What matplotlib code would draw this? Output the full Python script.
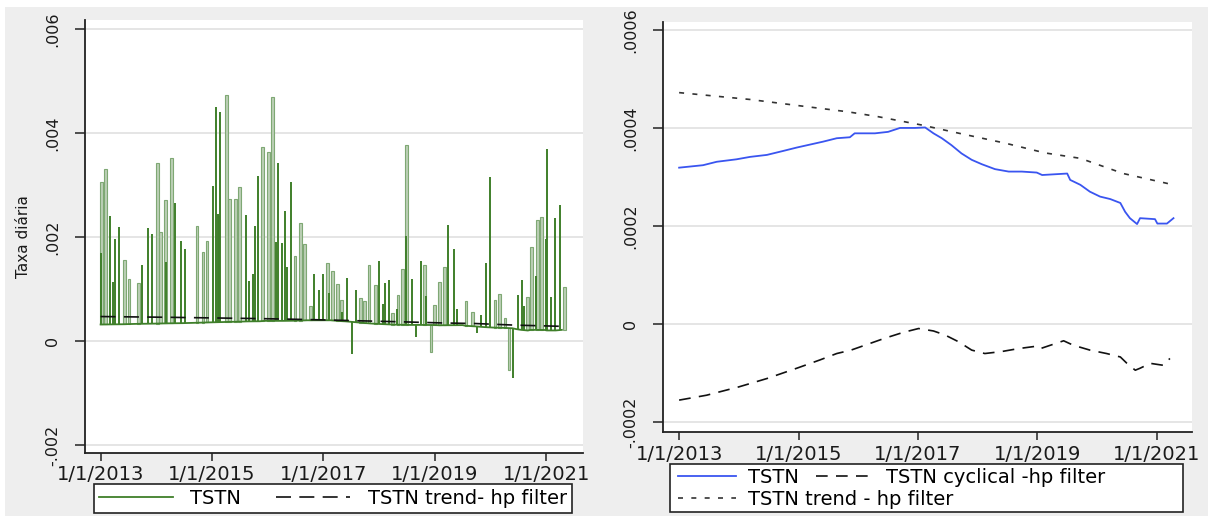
import numpy as np
import matplotlib
matplotlib.use('Agg')
import matplotlib.pyplot as plt
from matplotlib.patches import Rectangle
from matplotlib.lines import Line2D

plt.rcParams['font.family'] = ['DejaVu Sans']

# TSTN level (decimal years)
tstn_dates = [2013.00, 2013.40, 2013.63, 2013.96, 2014.19, 2014.47, 2014.74, 2014.97,
              2015.41, 2015.64, 2015.86, 2015.94, 2016.28, 2016.50, 2016.70, 2016.95,
              2017.12, 2017.26, 2017.40, 2017.56, 2017.73, 2017.90, 2018.07, 2018.29,
              2018.52, 2018.74, 2018.99, 2019.08, 2019.50, 2019.55, 2019.72, 2019.88,
              2020.05, 2020.22, 2020.39, 2020.47, 2020.55, 2020.67, 2020.72, 2020.97,
              2021.01, 2021.17, 2021.28]
tstn_values = [0.000319, 0.000324, 0.000331, 0.000336, 0.000341, 0.000345, 0.000353, 0.000360,
               0.000372, 0.000379, 0.000381, 0.000389, 0.000389, 0.000392, 0.000400, 0.000400,
               0.000401, 0.000389, 0.000379, 0.000365, 0.000348, 0.000335, 0.000326, 0.000316,
               0.000311, 0.000311, 0.000309, 0.000304, 0.000307, 0.000294, 0.000284, 0.000270,
               0.000260, 0.000255, 0.000247, 0.000229, 0.000216, 0.000204, 0.000216, 0.000214,
               0.000205, 0.000205, 0.000216]

# hp filter trend
trend_dates = [2013.00, 2014.19, 2015.03, 2015.82, 2016.33, 2017.06, 2017.73, 2018.46,
               2019.13, 2019.72, 2020.44, 2021.28]
trend_values = [0.000472, 0.000458, 0.000445, 0.000433, 0.000423, 0.000406, 0.000388, 0.000369,
                0.000349, 0.000338, 0.000307, 0.000284]

# hp filter cyclical component
cycle_dates = [2013.00, 2013.46, 2014.00, 2014.47, 2014.97, 2015.36, 2015.64, 2015.88,
               2016.44, 2016.75, 2017.01, 2017.26, 2017.45, 2017.68, 2017.90, 2018.12,
               2018.40, 2018.68, 2018.99, 2019.05, 2019.44, 2019.60, 2019.88, 2020.16,
               2020.39, 2020.50, 2020.64, 2020.72, 2020.89, 2021.11, 2021.22]
cycle_values = [-0.000155, -0.000145, -0.000128, -0.000111, -0.000090, -0.000073, -0.000060, -0.000053,
                -0.000029, -0.000017, -0.000009, -0.000014, -0.000022, -0.000036, -0.000053, -0.000060,
                -0.000056, -0.000050, -0.000045, -0.000050, -0.000034, -0.000043, -0.000053, -0.000060,
                -0.000067, -0.000080, -0.000094, -0.000090, -0.000080, -0.000084, -0.000070]

# daily TSTN: one-day jumps
spike_dates = [2013.00, 2013.16, 2013.23, 2013.26, 2013.33, 2013.75, 2013.85, 2013.92,
               2014.18, 2014.34, 2014.44, 2014.51, 2015.02, 2015.08, 2015.10, 2015.12,
               2015.14, 2015.61, 2015.67, 2015.74, 2015.77, 2015.83, 2016.15, 2016.18,
               2016.25, 2016.31, 2016.35, 2016.42, 2016.83, 2016.92, 2016.99, 2017.10,
               2017.34, 2017.42, 2017.51, 2017.58, 2018.00, 2018.07, 2018.11, 2018.17,
               2018.32, 2018.49, 2018.59, 2018.66, 2018.76, 2018.85, 2019.24, 2019.34,
               2019.40, 2019.75, 2019.83, 2019.92, 2019.99, 2020.41, 2020.50, 2020.57,
               2020.60, 2020.82, 2020.99, 2021.02, 2021.09, 2021.15, 2021.25]
spike_values = [0.00169, 0.00240, 0.00113, 0.00196, 0.00220, 0.00146, 0.00218, 0.00205,
                0.00152, 0.00266, 0.00193, 0.00177, 0.00298, 0.00450, 0.00245, 0.00240,
                0.00440, 0.00242, 0.00115, 0.00129, 0.00222, 0.00318, 0.00191, 0.00342,
                0.00188, 0.00250, 0.00143, 0.00306, 0.00128, 0.00099, 0.00128, 0.00093,
                0.00056, 0.00122, -0.00025, 0.00098, 0.00153, 0.00072, 0.00112, 0.00117,
                0.00062, 0.00202, 0.00119, 0.00008, 0.00154, 0.00087, 0.00223, 0.00177,
                0.00061, 0.00016, 0.00051, 0.00151, 0.00315, -0.00070, 0.00088, 0.00117,
                0.00068, 0.00125, 0.00196, 0.00369, 0.00084, 0.00236, 0.00262]

# daily TSTN: jumps held for a few days
plateau_dates = [2013.02, 2013.09, 2013.43, 2013.51, 2013.68, 2014.02, 2014.08, 2014.16,
                 2014.27, 2014.73, 2014.84, 2014.91, 2015.26, 2015.32, 2015.42, 2015.49,
                 2015.91, 2016.01, 2016.08, 2016.49, 2016.59, 2016.66, 2016.77, 2017.07,
                 2017.17, 2017.25, 2017.32, 2017.66, 2017.74, 2017.82, 2017.93, 2018.24,
                 2018.34, 2018.42, 2018.49, 2018.82, 2018.93, 2018.99, 2019.09, 2019.17,
                 2019.56, 2019.67, 2020.08, 2020.16, 2020.26, 2020.33, 2020.67, 2020.74,
                 2020.85, 2020.92, 2021.33]
plateau_values = [0.00306, 0.00331, 0.00155, 0.00119, 0.00111, 0.00342, 0.00210, 0.00271,
                  0.00351, 0.00222, 0.00171, 0.00193, 0.00473, 0.00273, 0.00273, 0.00297,
                  0.00373, 0.00364, 0.00469, 0.00164, 0.00226, 0.00186, 0.00068, 0.00150,
                  0.00135, 0.00110, 0.00079, 0.00083, 0.00077, 0.00146, 0.00108, 0.00054,
                  0.00089, 0.00138, 0.00377, 0.00146, -0.00021, 0.00069, 0.00113, 0.00142,
                  0.00077, 0.00056, 0.00079, 0.00090, 0.00044, -0.00055, 0.00084, 0.00180,
                  0.00233, 0.00239, 0.00104]

year_ticks = [2013, 2015, 2017, 2019, 2021]
year_labels = ['1/1/2013', '1/1/2015', '1/1/2017', '1/1/2019', '1/1/2021']
left_yticks = [-0.002, 0, 0.002, 0.004, 0.006]
left_ylabels = ['-.002', '0', '.002', '.004', '.006']
right_yticks = [-0.0002, 0, 0.0002, 0.0004, 0.0006]
right_ylabels = ['-.0002', '0', '.0002', '.0004', '.0006']

W, H = 1211, 523
fig = plt.figure(figsize=(W / 100, H / 100), dpi=100, facecolor='white')
fig.patches.append(Rectangle((5 / W, 7 / H), 1203 / W, 509 / H, transform=fig.transFigure,
                             facecolor='#eeeeee', edgecolor='none', zorder=-10))

ax1 = fig.add_axes([85 / W, 1 - 453 / H, 498 / W, 433 / H])
ax2 = fig.add_axes([663 / W, 1 - 432 / H, 529 / W, 410 / H])

TXT = '#1a1a1a'
FS = 14


def style_axis(ax, yticks, ylabels):
    ax.set_facecolor('white')
    for s in ['top', 'right']:
        ax.spines[s].set_visible(False)
    for s in ['left', 'bottom']:
        ax.spines[s].set_linewidth(1.3)
        ax.spines[s].set_color('#222222')
    ax.set_xticks(year_ticks)
    ax.set_xticklabels(year_labels, fontsize=FS, color=TXT)
    ax.set_yticks(yticks)
    ax.set_yticklabels(ylabels, fontsize=11.5, rotation=90, va='center', color=TXT)
    ax.tick_params(axis='x', direction='out', length=6, width=1.1, color='#222222', pad=3)
    ax.tick_params(axis='y', direction='out', length=7, width=1.1, color='#222222', pad=11)
    ax.set_axisbelow(True)
    ax.yaxis.grid(True, color='#e3e3e3', lw=1.3)


# left panel
green = '#3f7f2a'
base_spk = np.interp(spike_dates, tstn_dates, tstn_values)
base_plt = np.interp(plateau_dates, tstn_dates, tstn_values)
ax1.bar(plateau_dates, np.array(plateau_values) - base_plt, bottom=base_plt, width=0.05,
        color='#bcd0b6', edgecolor='#7fa874', lw=0.8, zorder=2)
ax1.vlines(spike_dates, base_spk, spike_values, color=green, lw=1.4, zorder=3)
ax1.plot(tstn_dates, tstn_values, color=green, lw=1.3, zorder=3)
ax1.plot(trend_dates, trend_values, color='#111111', lw=1.2, dashes=(9, 5), zorder=4)
ax1.set_xlim(2012.72, 2021.66)
ax1.set_ylim(-0.00215, 0.00617)
style_axis(ax1, left_yticks, left_ylabels)
ax1.set_ylabel('Taxa diária', fontsize=11, labelpad=10, color=TXT)

h1 = [Line2D([], [], color=green, lw=1.3),
      Line2D([], [], color='#111111', lw=1.2, dashes=(9, 5))]
leg1 = fig.legend(h1, ['TSTN', 'TSTN trend- hp filter'], loc='upper center',
                  bbox_to_anchor=(333 / W, 1 - 484 / H), ncol=2, fontsize=FS, frameon=True,
                  fancybox=False, edgecolor='#222222', framealpha=1, handlelength=3.8,
                  columnspacing=1.8, borderpad=0.25, handletextpad=0.9, borderaxespad=0)
leg1.get_frame().set_linewidth(1.2)

# right panel
blue = '#3a55f0'
ax2.plot(tstn_dates, tstn_values, color=blue, lw=1.3)
ax2.plot(cycle_dates, cycle_values, color='#111111', lw=1.2, dashes=(7, 5))
ax2.plot(trend_dates, trend_values, color='#333333', lw=1.2, dashes=(3, 5))
ax2.set_xlim(2012.73, 2021.59)
ax2.set_ylim(-0.00022, 0.000616)
style_axis(ax2, right_yticks, right_ylabels)

# right legend: frame drawn by hand, second row spans the columns
fig.patches.append(Rectangle((670 / W, 1 - 512 / H), 513 / W, 48 / H, transform=fig.transFigure,
                             facecolor='white', edgecolor='#222222', lw=1.2, zorder=5))
row1 = [Line2D([], [], color=blue, lw=1.3),
        Line2D([], [], color='#111111', lw=1.2, dashes=(7, 5))]
row2 = [Line2D([], [], color='#333333', lw=1.2, dashes=(3, 5))]
fig.legend(row1, ['TSTN', 'TSTN cyclical -hp filter'], loc='upper left',
           bbox_to_anchor=(678 / W, 1 - 468 / H), ncol=2, fontsize=FS, frameon=False,
           handlelength=3.0, handletextpad=0.6, columnspacing=0.9, borderpad=0,
           borderaxespad=0)
fig.legend(row2, ['TSTN trend - hp filter'], loc='upper left',
           bbox_to_anchor=(678 / W, 1 - 490 / H), fontsize=FS, frameon=False,
           handlelength=3.0, handletextpad=0.6, borderpad=0, borderaxespad=0)

fig.savefig('out.png', dpi=100, facecolor='white')
